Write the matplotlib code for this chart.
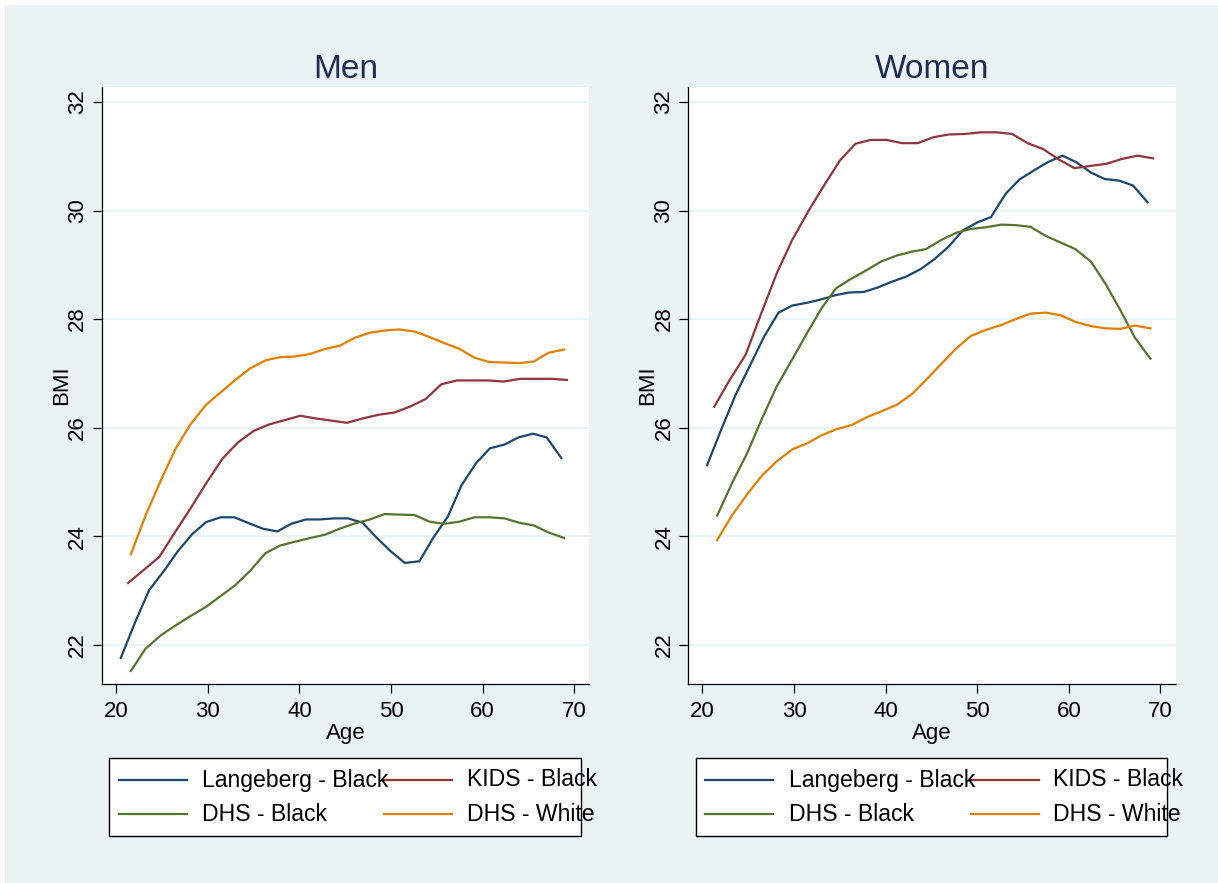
import matplotlib.pyplot as plt
from matplotlib.lines import Line2D
from matplotlib.patches import Rectangle

plt.rcParams['font.family'] = ['Liberation Sans', 'DejaVu Sans']

# age points of each survey
age_lang = [20.5, 22.1, 23.6, 25.2, 26.7, 28.3, 29.8, 31.4, 32.9, 34.5, 36.0, 37.6, 39.1, 40.7, 42.2, 43.8,
            45.3, 46.9, 48.4, 50.0, 51.5, 53.1, 54.6, 56.2, 57.7, 59.3, 60.8, 62.4, 63.9, 65.5, 67.0, 68.6]
age_kids = [21.3, 23.0, 24.7, 26.4, 28.1, 29.8, 31.6, 33.3, 35.0, 36.7, 38.4, 40.1, 41.8, 43.5, 45.2,
            46.9, 48.7, 50.4, 52.1, 53.8, 55.5, 57.2, 58.9, 60.6, 62.3, 64.1, 65.8, 67.5, 69.2]
age_dhs = [21.6, 23.2, 24.9, 26.5, 28.1, 29.8, 31.4, 33.0, 34.6, 36.3, 37.9, 39.5, 41.2, 42.8, 44.4,
           46.1, 47.7, 49.3, 50.9, 52.6, 54.2, 55.8, 57.5, 59.1, 60.7, 62.4, 64.0, 65.6, 67.2, 68.9]

# men
lang_m = [21.76, 22.43, 23.01, 23.36, 23.72, 24.04, 24.26, 24.35, 24.35, 24.24, 24.14, 24.09, 24.23, 24.31,
          24.31, 24.33, 24.33, 24.25, 23.98, 23.72, 23.51, 23.54, 23.97, 24.36, 24.94, 25.35, 25.62, 25.69,
          25.82, 25.89, 25.82, 25.44]
kids_m = [23.14, 23.38, 23.62, 24.07, 24.51, 24.97, 25.43, 25.73, 25.94, 26.06, 26.14, 26.22, 26.17, 26.13,
          26.09, 26.17, 26.24, 26.28, 26.39, 26.53, 26.80, 26.87, 26.87, 26.87, 26.85, 26.90, 26.90, 26.90, 26.88]
dhs_black_m = [21.52, 21.93, 22.18, 22.36, 22.53, 22.70, 22.90, 23.10, 23.36, 23.69, 23.83, 23.90, 23.97, 24.03,
               24.14, 24.24, 24.31, 24.41, 24.40, 24.39, 24.27, 24.23, 24.27, 24.35, 24.35, 24.33, 24.25, 24.20,
               24.07, 23.97]
dhs_white_m = [23.67, 24.38, 25.04, 25.62, 26.06, 26.42, 26.65, 26.88, 27.09, 27.24, 27.30, 27.31, 27.36, 27.45,
               27.51, 27.66, 27.75, 27.79, 27.81, 27.77, 27.67, 27.56, 27.45, 27.29, 27.21, 27.20, 27.19, 27.22,
               27.38, 27.44]

# women
lang_w = [25.31, 25.99, 26.60, 27.15, 27.67, 28.12, 28.25, 28.30, 28.36, 28.44, 28.49, 28.50, 28.58, 28.69,
          28.78, 28.92, 29.10, 29.34, 29.63, 29.78, 29.88, 30.31, 30.57, 30.74, 30.89, 31.01, 30.89, 30.70,
          30.58, 30.55, 30.46, 30.15]
kids_w = [26.39, 26.89, 27.34, 28.10, 28.84, 29.46, 30.00, 30.47, 30.92, 31.23, 31.30, 31.30, 31.24, 31.24,
          31.35, 31.40, 31.41, 31.44, 31.44, 31.41, 31.24, 31.13, 30.94, 30.78, 30.82, 30.86, 30.95, 31.01, 30.96]
dhs_black_w = [24.38, 24.97, 25.54, 26.17, 26.76, 27.26, 27.74, 28.20, 28.57, 28.75, 28.90, 29.06, 29.17, 29.24,
               29.29, 29.46, 29.59, 29.66, 29.69, 29.74, 29.73, 29.70, 29.53, 29.41, 29.29, 29.06, 28.65, 28.17,
               27.66, 27.27]
dhs_white_w = [23.93, 24.38, 24.78, 25.12, 25.38, 25.60, 25.71, 25.86, 25.97, 26.05, 26.19, 26.30, 26.42, 26.61,
               26.88, 27.18, 27.46, 27.69, 27.80, 27.89, 28.00, 28.10, 28.12, 28.07, 27.95, 27.87, 27.83, 27.82,
               27.88, 27.83]

labels = ['Langeberg - Black', 'KIDS - Black', 'DHS - Black', 'DHS - White']
colors = ['#1a476f', '#90353b', '#55752f', '#e37e00']
panels = {
    'Men': [(age_lang, lang_m), (age_kids, kids_m), (age_dhs, dhs_black_m), (age_dhs, dhs_white_m)],
    'Women': [(age_lang, lang_w), (age_kids, kids_w), (age_dhs, dhs_black_w), (age_dhs, dhs_white_w)],
}

W, H = 1218, 883
BG = '#eaf2f3'
fig = plt.figure(figsize=(W / 100, H / 100), dpi=100, facecolor='white')
fig.add_artist(Rectangle((5 / W, 0), 1, 1 - 5 / H, transform=fig.transFigure,
                         facecolor=BG, edgecolor='none', zorder=-1))


def fx(x):
    return x / W


def fy(y):
    return 1 - y / H


for i, (name, series) in enumerate(panels.items()):
    off = 586.3 * i
    ax = fig.add_axes([fx(102 + off), fy(684), 487.3 / W, 597.3 / H])
    for (x, y), c in zip(series, colors):
        ax.plot(x, y, color=c, lw=1.6, zorder=3)

    ax.set_xlim(18.45, 71.65)
    ax.set_ylim(21.28, 32.28)
    ax.set_xticks([20, 30, 40, 50, 60, 70])
    ax.set_yticks([22, 24, 26, 28, 30, 32])
    ax.grid(axis='y', color=BG, lw=1.3, zorder=1)
    for s in ['top', 'right']:
        ax.spines[s].set_visible(False)
    for s in ['left', 'bottom']:
        ax.spines[s].set_linewidth(0.9)
    ax.tick_params(direction='out', length=6.5, width=0.9, labelsize=16)
    ax.tick_params(axis='x', pad=6)
    ax.tick_params(axis='y', pad=3.5)
    plt.setp(ax.get_yticklabels(), rotation=90, va='center')

    ax.set_title(name, fontsize=24, color='#1e2b52', pad=6.5)
    ax.set_xlabel('Age', fontsize=16, va='top')
    ax.xaxis.set_label_coords(0.5, -0.066)
    ax.set_ylabel('BMI', fontsize=16)
    ax.yaxis.set_label_coords(-0.062, 0.5)

    # legend box under each panel
    fig.add_artist(Rectangle((fx(109.3 + off), fy(836)), (581 - 109.3) / W, (836 - 758.3) / H,
                             transform=fig.transFigure, facecolor='white', edgecolor='black', lw=1))
    for k, (lab, c) in enumerate(zip(labels, colors)):
        col, row = k % 2, k // 2
        x0 = [119, 384.3][col] + off
        y0 = [780, 814.3][row]
        fig.add_artist(Line2D([fx(x0), fx(x0 + 68)], [fy(y0), fy(y0)],
                              transform=fig.transFigure, color=c, lw=1.6))
        fig.text(fx([202.3, 466.7][col] + off), fy(y0), lab, fontsize=16.6, va='center', ha='left')

fig.savefig('out.png', dpi=100)
